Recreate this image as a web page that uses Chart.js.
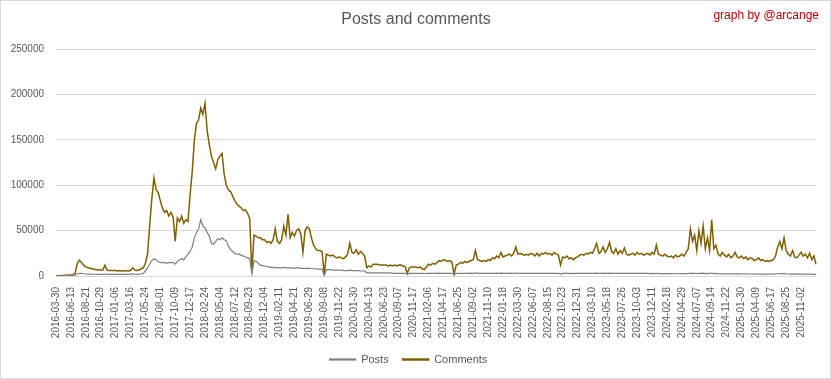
<!DOCTYPE html>
<html>
<head>
<meta charset="utf-8">
<title>Posts and comments</title>
<script src="https://cdn.jsdelivr.net/npm/chart.js"></script>
<style>
    body { margin: 0; background: #ffffff; }
    #postsChart { display: block; }
</style>
</head>
<body>
<canvas id="postsChart" width="831" height="379"></canvas>
<script>
// Date labels shown on the x axis (one every 7 points)
const tickDates = [
    '2016-03-30', '2016-06-13', '2016-08-21', '2016-10-29', '2017-01-06', '2017-03-16',
    '2017-05-24', '2017-08-01', '2017-10-09', '2017-12-17', '2018-02-24', '2018-05-04',
    '2018-07-12', '2018-09-23', '2018-12-04', '2019-02-11', '2019-04-21', '2019-06-29',
    '2019-09-08', '2019-11-22', '2020-01-30', '2020-04-13', '2020-06-23', '2020-09-07',
    '2020-11-17', '2021-02-06', '2021-04-17', '2021-06-25', '2021-09-02', '2021-11-10',
    '2022-01-18', '2022-03-30', '2022-06-07', '2022-08-15', '2022-10-23', '2022-12-31',
    '2023-03-10', '2023-05-18', '2023-07-26', '2023-10-03', '2023-12-11', '2024-02-18',
    '2024-04-29', '2024-07-07', '2024-09-14', '2024-11-22', '2025-01-30', '2025-04-09',
    '2025-06-17', '2025-08-25', '2025-11-02'
];

// Points between two date labels
const pointsPerTick = 7;

// Y axis ticks
const yTicks = [0, 50000, 100000, 150000, 200000, 250000];

// Comments per day (sampled, one row per label interval)
const comments = [
    300, 400, 500, 600, 700, 900, 1200,
    1000, 1500, 3000, 14000, 17500, 15000, 12000,
    10000, 9000, 8500, 8000, 7500, 7000, 7000,
    6500, 6500, 12000, 6500, 6000, 6000, 6000,
    6000, 5500, 6000, 5500, 5500, 6000, 5500,
    6000, 9000, 6500, 6000, 6500, 8000, 9000,
    14000, 24000, 55000, 85000, 108000, 95000, 92000,
    83000, 75000, 70000, 72000, 66000, 70000, 65000,
    38000, 64000, 60000, 66000, 58000, 62000, 60000,
    90000, 115000, 150000, 168000, 172000, 185000, 178000,
    190000, 160000, 145000, 132000, 125000, 118000, 128000,
    132000, 135000, 112000, 100000, 95000, 93000, 88000,
    83000, 79000, 77000, 75000, 72000, 73000, 69000,
    63000, 5000, 45000, 44000, 42000, 42000, 40000,
    40000, 37000, 38000, 36000, 40000, 52000, 38000,
    36000, 40000, 55000, 45000, 68000, 42000, 48000,
    44000, 50000, 52000, 46000, 26000, 50000, 54000,
    52000, 42000, 34000, 30000, 28000, 28000, 27000,
    1000, 24000, 23000, 22000, 23000, 21000, 20000,
    21000, 20000, 19000, 21000, 24000, 36000, 26000,
    25000, 29000, 24000, 27000, 25000, 22000, 9000,
    11000, 10000, 13000, 13000, 13000, 12000, 12000,
    12000, 12000, 11000, 12000, 11000, 12000, 11000,
    12000, 12000, 11000, 10000, 3000, 9000, 10000,
    10000, 10000, 9000, 10000, 8000, 7000, 10000,
    13000, 12000, 14000, 13000, 15000, 17000, 16000,
    18000, 17000, 16000, 17000, 15000, 2000, 12000,
    13000, 15000, 14000, 16000, 15000, 16000, 17000,
    18000, 28000, 18000, 17000, 16000, 17000, 16000,
    18000, 17000, 20000, 19000, 22000, 20000, 26000,
    21000, 22000, 23000, 24000, 22000, 25000, 32000,
    24000, 25000, 24000, 23000, 24000, 23000, 25000,
    24000, 22000, 25000, 22000, 25000, 24000, 26000,
    24000, 25000, 23000, 26000, 24000, 23000, 12000,
    21000, 20000, 22000, 19000, 20000, 18000, 20000,
    21000, 23000, 24000, 23000, 25000, 24000, 26000,
    25000, 30000, 36000, 25000, 27000, 32000, 26000,
    30000, 37000, 27000, 25000, 30000, 24000, 28000,
    25000, 31000, 24000, 23000, 24000, 25000, 23000,
    26000, 24000, 25000, 23000, 24000, 25000, 23000,
    26000, 24000, 34000, 24000, 23000, 22000, 24000,
    22000, 21000, 22000, 20000, 23000, 21000, 22000,
    24000, 22000, 26000, 30000, 52000, 38000, 45000,
    28000, 50000, 36000, 55000, 30000, 42000, 28000,
    62000, 30000, 34000, 24000, 22000, 26000, 23000,
    21000, 24000, 20000, 22000, 26000, 21000, 20000,
    22000, 19000, 21000, 18000, 20000, 19000, 17000,
    18000, 20000, 17000, 18000, 16000, 17000, 16000,
    17000, 18000, 22000, 32000, 38000, 30000, 42000,
    28000, 24000, 22000, 28000, 21000, 20000, 23000,
    26000, 22000, 24000, 20000, 25000, 18000, 22000, 13000
];

// Posts per day (sampled the same way)
const posts = [
    200, 250, 300, 300, 350, 400, 450,
    500, 600, 900, 2500, 3000, 2800, 2500,
    2200, 2000, 2000, 1900, 1900, 1800, 1800,
    1800, 1800, 2200, 1800, 1700, 1700, 1800,
    1700, 1700, 1800, 1700, 1700, 1800, 1700,
    1800, 2500, 1900, 1800, 2000, 2200, 3000,
    5500, 9000, 13000, 17000, 19000, 18000, 16000,
    15000, 14500, 15000, 14000, 15000, 14500, 15000,
    13000, 16000, 18000, 19000, 18000, 21000, 24000,
    27000, 32000, 42000, 48000, 52000, 62000, 55000,
    53000, 48000, 44000, 36000, 35000, 38000, 41000,
    40000, 42000, 40000, 39000, 33000, 29000, 27000,
    25000, 24000, 24000, 23000, 22000, 21000, 20000,
    19000, 2000, 17000, 16000, 14000, 12000, 11500,
    11000, 10500, 10000, 9500, 9500, 9000, 9500,
    9000, 9000, 9500, 9000, 9000, 9000, 9000,
    8500, 9000, 9000, 8500, 8500, 8500, 8500,
    8500, 8000, 8000, 8000, 7500, 7500, 7500,
    500, 7000, 7000, 7000, 6500, 6500, 6500,
    6500, 6500, 6000, 6000, 6000, 6500, 6000,
    6000, 6000, 6000, 5500, 5500, 5500, 3500,
    3500, 3500, 3500, 3500, 3500, 3500, 3500,
    3500, 3500, 3500, 3500, 3000, 3000, 3000,
    3000, 3000, 3000, 3000, 1500, 2800, 3000,
    3000, 3000, 3000, 3000, 2800, 2500, 2800,
    3000, 3000, 3000, 3000, 3000, 3200, 3000,
    3000, 3000, 3000, 3000, 3000, 1500, 2800,
    3000, 3000, 2900, 3000, 3000, 3000, 3100,
    3000, 3500, 3000, 3000, 3000, 3000, 3000,
    3000, 3000, 3000, 3000, 3100, 3000, 3200,
    3000, 3000, 3000, 3100, 3000, 3000, 3300,
    3000, 3000, 3000, 3000, 3000, 3000, 3000,
    3000, 2900, 3000, 2900, 3000, 3000, 3000,
    2900, 3000, 2900, 3000, 2900, 2900, 2000,
    2800, 2800, 2900, 2800, 2800, 2700, 2800,
    2800, 2900, 2900, 2900, 3000, 2900, 3000,
    3000, 3000, 3200, 3000, 3000, 3100, 3000,
    3000, 3200, 3000, 3000, 3000, 2900, 3000,
    2900, 3000, 2900, 2800, 2900, 2900, 2800,
    2900, 2800, 2800, 2800, 2800, 2800, 2700,
    2800, 2700, 3000, 2700, 2700, 2600, 2700,
    2600, 2600, 2600, 2500, 2600, 2500, 2600,
    2600, 2500, 2600, 2700, 3200, 2800, 3000,
    2700, 3000, 2800, 3200, 2700, 2900, 2600,
    3300, 2700, 2800, 2500, 2400, 2500, 2400,
    2400, 2400, 2300, 2400, 2400, 2300, 2300,
    2300, 2200, 2300, 2200, 2200, 2200, 2100,
    2100, 2200, 2100, 2100, 2000, 2100, 2000,
    2000, 2100, 2200, 2500, 2700, 2400, 2800,
    2400, 2200, 2100, 2300, 2100, 2000, 2100,
    2200, 2000, 2100, 2000, 2100, 1900, 2000, 1500
];

const textColor = '#595959';
const gridColor = '#d9d9d9';
const postsColor = '#7f7f7f';
const commentsColor = '#7f6000';

document.addEventListener('DOMContentLoaded', function() {
    initializePostsChart();
});

// Build category labels: a date every 7 points, blank in between
function buildLabels() {
    return comments.map(function(v, i) {
        return i % pointsPerTick === 0 ? (tickDates[i / pointsPerTick] || '') : '';
    });
}

// Title, credit and chart border
const decorPlugin = {
    id: 'decor',
    beforeDraw: function(chart) {
        const ctx = chart.ctx;
        ctx.save();
        ctx.fillStyle = '#ffffff';
        ctx.fillRect(0, 0, chart.width, chart.height);
        ctx.strokeStyle = gridColor;
        ctx.lineWidth = 1;
        ctx.strokeRect(0.5, 0.5, chart.width - 1, chart.height - 1);
        ctx.restore();
    },
    afterDraw: function(chart) {
        const ctx = chart.ctx;
        ctx.save();
        ctx.textBaseline = 'middle';
        ctx.textAlign = 'center';
        ctx.fillStyle = textColor;
        ctx.font = '16px "Liberation Sans"';
        ctx.fillText('Posts and comments', 416, 20);
        ctx.textAlign = 'right';
        ctx.fillStyle = '#c00000';
        ctx.font = '12px "Liberation Sans"';
        ctx.fillText('graph by @arcange', 819, 16);
        ctx.restore();
    }
};

function initializePostsChart() {
    const ctx = document.getElementById('postsChart');
    if (!ctx) return;

    new Chart(ctx, {
        type: 'line',
        data: {
            labels: buildLabels(),
            datasets: [{
                label: 'Posts',
                data: posts,
                borderColor: postsColor,
                backgroundColor: postsColor,
                borderWidth: 1.2,
                pointRadius: 0,
                tension: 0,
                fill: false
            }, {
                label: 'Comments',
                data: comments,
                borderColor: commentsColor,
                backgroundColor: commentsColor,
                borderWidth: 1.5,
                pointRadius: 0,
                tension: 0,
                fill: false
            }]
        },
        options: {
            responsive: false,
            devicePixelRatio: 1,
            animation: false,
            layout: {
                padding: { top: 49, right: 14, left: 0, bottom: 4 }
            },
            plugins: {
                title: { display: false },
                tooltip: { enabled: false },
                legend: {
                    display: true,
                    position: 'bottom',
                    labels: {
                        boxWidth: 26,
                        boxHeight: 1,
                        padding: 14,
                        color: textColor,
                        font: { family: 'Liberation Sans', size: 11 }
                    }
                }
            },
            scales: {
                x: {
                    offset: false,
                    grid: { display: false },
                    border: { display: true, color: gridColor },
                    ticks: {
                        autoSkip: false,
                        minRotation: 90,
                        maxRotation: 90,
                        padding: 3,
                        color: textColor,
                        font: { family: 'Liberation Sans', size: 10 }
                    },
                    afterFit: function(scale) {
                        scale.height = 64;
                    }
                },
                y: {
                    min: 0,
                    max: 250000,
                    grid: { color: gridColor, drawTicks: false },
                    border: { display: false },
                    afterBuildTicks: function(scale) {
                        scale.ticks = yTicks.map(function(v) { return { value: v }; });
                    },
                    ticks: {
                        padding: 12,
                        color: textColor,
                        font: { family: 'Liberation Sans', size: 10 },
                        callback: function(value) {
                            return String(value);
                        }
                    },
                    afterFit: function(scale) {
                        scale.width = 56;
                    }
                }
            }
        },
        plugins: [decorPlugin]
    });
}
</script>
</body>
</html>
